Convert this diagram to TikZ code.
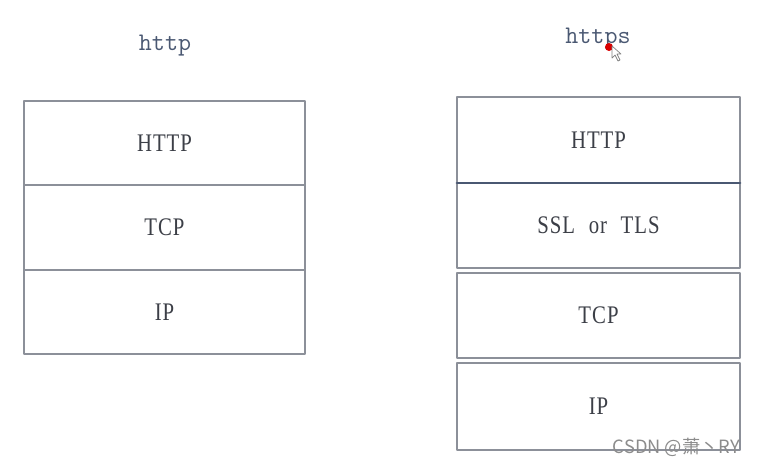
\documentclass[tikz,border=0pt]{standalone}
\usepackage{fontspec}
\setmainfont{Liberation Serif}
\newfontfamily\layerfont[FakeStretch=0.82,WordSpace=2.2,LetterSpace=4]{Liberation Serif}
\newfontfamily\cjk{Noto Sans CJK SC}
\definecolor{boxgray}{HTML}{8C9099}
\definecolor{textgray}{HTML}{3C3F47}
\definecolor{titleblue}{HTML}{4A5872}
\begin{document}
\begin{tikzpicture}[x=0.025cm,y=-0.025cm, line join=round, line cap=round,
    layer/.style={draw=boxgray, line width=1.3pt, fill=white, text=textgray,
        font=\layerfont\fontsize{18}{20}\selectfont, inner sep=0pt, outer sep=0pt},
    title/.style={text=titleblue, font=\ttfamily\fontsize{18}{20}\selectfont}]
    \useasboundingbox (0,0) rectangle (760,467);
    % http
    \node[title] (t1) at (165,46) {http};
    \node[layer, minimum width=7.025cm, minimum height=2.1125cm] (l1) at (164.5,143) {HTTP};
    \node[layer, minimum width=7.025cm, minimum height=2.1125cm] (l2) at (164.5,227.5) {TCP};
    \node[layer, minimum width=7.025cm, minimum height=2.1125cm] (l3) at (164.5,312) {IP};
    % https
    \node[title] (t2) at (598,39) {https};
    \node[layer, minimum width=7.075cm, minimum height=2.15cm] (r1) at (598.5,140) {HTTP};
    \node[layer, minimum width=7.075cm, minimum height=2.125cm] (r2) at (598.5,225.5) {SSL or TLS};
    \node[layer, minimum width=7.075cm, minimum height=2.125cm] (r3) at (598.5,315.5) {TCP};
    \node[layer, minimum width=7.075cm, minimum height=2.175cm] (r4) at (598.5,406.5) {IP};
    \draw[line width=2pt, color=titleblue] (r1.south west)--(r1.south east);
    % pointer
    \fill[red!85!black] (609,47) circle (4);
    \draw[gray, fill=white, line width=0.5pt] (612,46)--(612,58)--(615,55)--(618,61)--(620,60)--(617,54)--(621,54)--cycle;
    \node[text=gray!90, font=\cjk\fontsize{13}{15}\selectfont, anchor=east] (wm) at (745,447) {CSDN @萧丶RY};
\end{tikzpicture}
\end{document}
